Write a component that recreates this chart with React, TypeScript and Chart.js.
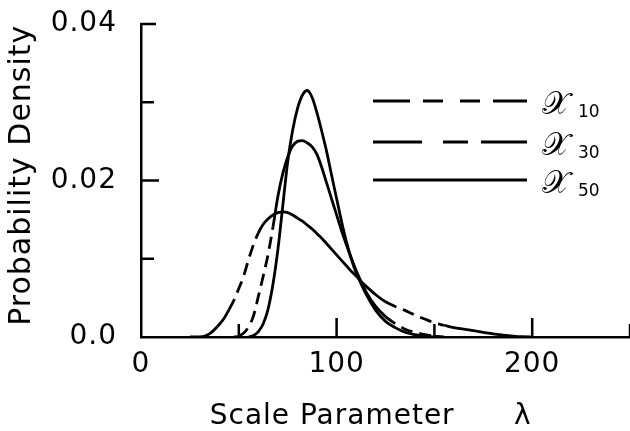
import React, { useEffect, useRef } from "react";
import { Chart, registerables } from "chart.js";

Chart.register(...registerables);

// ---- data ----
const lambdaValues = [
  25, 30, 35, 40, 42.5, 45, 47.5, 50, 52.5, 55, 57.5, 60, 62.5, 65, 67.5, 70,
  72.5, 75, 77.5, 80, 82.5, 85, 87.5, 90, 92.5, 95, 97.5, 100, 102.5, 105,
  107.5, 110, 112.5, 115, 120, 125, 130, 135, 140, 145, 150, 155, 160, 165,
  170, 175, 180, 185, 190, 195, 200,
];

const densityX10 = [
  0, 0, 0.0004, 0.0016, 0.0024, 0.0035, 0.0047, 0.0062, 0.0078, 0.0099,
  0.0118, 0.0133, 0.0144, 0.0151, 0.0156, 0.0159, 0.016, 0.0159, 0.0156,
  0.0152, 0.0148, 0.0143, 0.0138, 0.0132, 0.0126, 0.0119, 0.0112, 0.0105,
  0.0098, 0.0091, 0.0084, 0.0078, 0.0071, 0.0065, 0.0054, 0.0045, 0.0039,
  0.0034, 0.0028, 0.0023, 0.0018, 0.0015, 0.0012, 0.001, 0.0008, 0.0006,
  0.0004, 0.00025, 0.00012, 0.00003, 0,
];

const densityX30 = [
  null, null, null, null, null, null, 0, 0.0001, 0.0005, 0.0013, 0.0027,
  0.0052, 0.0078, 0.0106, 0.0141, 0.018, 0.0209, 0.023, 0.0244, 0.025,
  0.0251, 0.0248, 0.0243, 0.0233, 0.0216, 0.0196, 0.0176, 0.0156, 0.0136,
  0.0118, 0.0101, 0.0085, 0.0071, 0.0058, 0.0039, 0.0026, 0.0017, 0.001,
  0.0006, 0.0003, 0.0001, 0, null, null, null, null, null, null, null, null,
  null,
];

const densityX50 = [
  null, null, null, null, null, null, null, null, null, 0, 0.0002, 0.0007,
  0.0017, 0.0036, 0.0068, 0.0112, 0.0168, 0.0224, 0.0264, 0.0292, 0.0309,
  0.0315, 0.0306, 0.0286, 0.0262, 0.0236, 0.0206, 0.0177, 0.0148, 0.0122,
  0.01, 0.0082, 0.0068, 0.0055, 0.0034, 0.002, 0.0012, 0.0006, 0.0003,
  0.0001, 0, null, null, null, null, null, null, null, null, null, null,
];

const seriesSubscripts = ["10", "30", "50"];
const xTickLabels: Record<number, string> = { 0: "0", 100: "100", 200: "200" };
const yTickLabels: Record<number, string> = { 0: "0.0", 2: "0.02", 4: "0.04" };

// ---- styles ----
const FONT = "'DejaVu Sans', sans-serif";
const INK = "#000";
// ranges of lambda where the printed curves appear dashed
const dashRanges: number[][][] = [
  [
    [45, 58],
    [122, 152],
  ],
  [
    [50, 66],
    [122, 150],
  ],
  [],
];
const curveDash = [
  [12, 7],
  [12, 7],
  [],
];
const legendDash = [
  [37, 13, 20, 17, 20, 13, 40],
  [49, 21, 25, 13, 60],
  [],
];
const legendRowY = [101, 142, 180];
const legendLineX = [373, 527];

const inRanges = (x: number, ranges: number[][]) =>
  ranges.some(([a, b]) => x >= a && x < b);

const spacingPlugin = {
  id: "letterSpacing",
  beforeDraw(chart: any) {
    chart.ctx.letterSpacing = "1px";
  },
};

const tickMarksPlugin = {
  id: "inwardTicks",
  afterDraw(chart: any) {
    const { ctx, chartArea, scales } = chart;
    const xs = scales.x;
    const ys = scales.y;
    ctx.save();
    ctx.strokeStyle = INK;
    ctx.lineWidth = 2.5;
    xs.ticks.forEach((t: any) => {
      if (t.value === 0) return;
      const px = xs.getPixelForValue(t.value);
      const len = t.value % 100 === 0 ? 19 : 13;
      ctx.beginPath();
      ctx.moveTo(px, chartArea.bottom);
      ctx.lineTo(px, chartArea.bottom - len);
      ctx.stroke();
    });
    ys.ticks.forEach((t: any) => {
      const k = Math.round(t.value * 100);
      if (k === 0) return;
      const py = ys.getPixelForValue(t.value);
      const len = k === 4 ? 15 : k % 2 === 0 ? 18 : 13;
      ctx.beginPath();
      ctx.moveTo(chartArea.left, py);
      ctx.lineTo(chartArea.left + len, py);
      ctx.stroke();
    });
    ctx.restore();
  },
};

const legendPlugin = {
  id: "curveLegend",
  afterDraw(chart: any) {
    const { ctx } = chart;
    chart.data.datasets.forEach((ds: any, i: number) => {
      const y = legendRowY[i];
      ctx.save();
      ctx.strokeStyle = INK;
      ctx.lineWidth = 2.8;
      ctx.setLineDash(legendDash[i]);
      ctx.beginPath();
      ctx.moveTo(legendLineX[0], y);
      ctx.lineTo(legendLineX[1], y);
      ctx.stroke();
      ctx.setLineDash([]);
      ctx.fillStyle = INK;
      ctx.textBaseline = "alphabetic";
      ctx.textAlign = "left";
      ctx.letterSpacing = "0px";
      ctx.font = `32px ${FONT}`;
      ctx.fillText("𝒳", 542, y + 13);
      ctx.font = `17px ${FONT}`;
      ctx.fillText(seriesSubscripts[i], 578, y + 16);
      ctx.restore();
    });
  },
};

export default function App() {
  const canvasRef = useRef<HTMLCanvasElement | null>(null);

  useEffect(() => {
    if (!canvasRef.current) return;
    const series = [densityX10, densityX30, densityX50];
    const chart = new Chart(canvasRef.current, {
      type: "line",
      data: {
        datasets: series.map((vals, i) => ({
          label: "𝒳" + seriesSubscripts[i],
          data: lambdaValues.map((x, j) => ({ x, y: vals[j] })),
          borderColor: INK,
          borderWidth: 2.8,
          pointRadius: 0,
          fill: false,
          cubicInterpolationMode: "monotone" as const,
          spanGaps: false,
          segment: {
            borderDash: (c: any) =>
              inRanges(c.p0.parsed.x, dashRanges[i]) ? curveDash[i] : undefined,
          },
        })),
      },
      options: {
        animation: false,
        responsive: false,
        events: [],
        layout: { padding: { top: 24, right: 0, left: 0, bottom: 0 } },
        plugins: {
          legend: { display: false },
          tooltip: { enabled: false },
        },
        scales: {
          x: {
            type: "linear",
            min: 0,
            max: 250,
            grid: { display: false, drawTicks: false },
            border: { display: true, color: INK, width: 2.5 },
            ticks: {
              stepSize: 50,
              autoSkip: false,
              maxRotation: 0,
              padding: 11,
              color: INK,
              font: { family: FONT, size: 28 },
              callback: (v: any) => xTickLabels[v as number] ?? "",
            },
            title: {
              display: true,
              text: "Scale Parameter      λ   ",
              color: INK,
              font: { family: FONT, size: 28, lineHeight: 1 },
              padding: { top: 0, bottom: 0 },
            },
            afterFit: (s: any) => {
              s.height = 94;
              s.paddingLeft = 0;
              s.paddingRight = 0;
            },
          },
          y: {
            type: "linear",
            min: 0,
            max: 0.04,
            grid: { display: false, drawTicks: false },
            border: { display: true, color: INK, width: 2.5 },
            ticks: {
              stepSize: 0.01,
              padding: 24,
              color: INK,
              font: { family: FONT, size: 28 },
              callback: (v: any) =>
                yTickLabels[Math.round((v as number) * 100)] ?? "",
            },
            title: {
              display: true,
              text: " Probability Density",
              color: INK,
              font: { family: FONT, size: 30, lineHeight: 1 },
              padding: { top: 7, bottom: 0 },
            },
            afterFit: (s: any) => {
              s.width = 141;
              s.paddingTop = 0;
              s.paddingBottom = 0;
            },
          },
        },
      },
      plugins: [spacingPlugin, tickMarksPlugin, legendPlugin],
    });
    return () => chart.destroy();
  }, []);

  return (
    <div style={{ position: "absolute", left: 0, top: 0, width: 630, height: 431, background: "#fff" }}>
      <canvas ref={canvasRef} width={630} height={431} />
    </div>
  );
}
